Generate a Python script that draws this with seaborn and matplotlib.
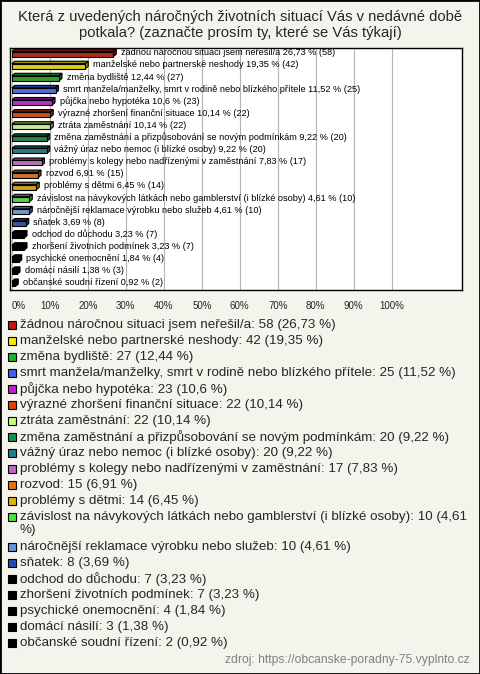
import textwrap

import matplotlib.pyplot as plt
import numpy as np
import pandas as pd
import seaborn as sns
from matplotlib.colors import to_rgb
from matplotlib.patches import Polygon, Rectangle

title = ("Která z uvedených náročných životních situací Vás v nedávné době\n"
         "potkala? (zaznačte prosím ty, které se Vás týkají)")

categories = [
    "žádnou náročnou situaci jsem neřešil/a",
    "manželské nebo partnerské neshody",
    "změna bydliště",
    "smrt manžela/manželky, smrt v rodině nebo blízkého přítele",
    "půjčka nebo hypotéka",
    "výrazné zhoršení finanční situace",
    "ztráta zaměstnání",
    "změna zaměstnání a přizpůsobování se novým podmínkám",
    "vážný úraz nebo nemoc (i blízké osoby)",
    "problémy s kolegy nebo nadřízenými v zaměstnání",
    "rozvod",
    "problémy s dětmi",
    "závislost na návykových látkách nebo gamblerství (i blízké osoby)",
    "náročnější reklamace výrobku nebo služeb",
    "sňatek",
    "odchod do důchodu",
    "zhoršení životních podmínek",
    "psychické onemocnění",
    "domácí násilí",
    "občanské soudní řízení",
]
counts = [58, 42, 27, 25, 23, 22, 22, 20, 20, 17, 15, 14, 10, 10, 8, 7, 7, 4, 3, 2]
percents = [26.73, 19.35, 12.44, 11.52, 10.6, 10.14, 10.14, 9.22, 9.22, 7.83,
            6.91, 6.45, 4.61, 4.61, 3.69, 3.23, 3.23, 1.84, 1.38, 0.92]
colors = ["#c0180c", "#f8e800", "#20b020", "#3c64e8", "#c020d0", "#e04010",
          "#c8f880", "#189050", "#208090", "#c860c8", "#e87010", "#e8b000",
          "#50e040", "#6890e0", "#2848b8", "#000000", "#000000", "#000000",
          "#000000", "#000000"]
source = "zdroj: https://obcanske-poradny-75.vyplnto.cz"


def fmt(v):
    return f"{v:g}".replace(".", ",")


df = pd.DataFrame({"cat": categories, "pct": percents, "n": counts})

sns.set_style("white")
plt.rcParams["font.family"] = ["Liberation Sans", "DejaVu Sans"]

W, H = 480, 674
bg = "#f4f4ec"
fig = plt.figure(figsize=(W / 100, H / 100), dpi=100)
fig.patch.set_facecolor(bg)

ax = fig.add_axes([10 / W, 1 - 290 / H, 452 / W, 242 / H])
ax.set_facecolor("white")
sns.barplot(data=df, y="cat", x="pct", hue="cat", palette=colors, legend=False,
            orient="h", width=0.42, edgecolor="black", linewidth=0.8, ax=ax, zorder=3)

# fake 3D depth on each bar
dx, dy = 0.75, -0.2
for i, p in enumerate(ax.patches):
    x0, y0 = p.get_x(), p.get_y()
    w, h = p.get_width(), p.get_height()
    x1 = x0 + w
    dark = tuple(0.6 * np.array(to_rgb(colors[i])))
    top = Polygon([(x0, y0), (x0 + dx, y0 + dy), (x1 + dx, y0 + dy), (x1, y0)],
                  closed=True, fc=dark, ec="black", lw=0.8, zorder=2.9)
    side = Polygon([(x1, y0), (x1 + dx, y0 + dy), (x1 + dx, y0 + h + dy), (x1, y0 + h)],
                   closed=True, fc=dark, ec="black", lw=0.8, zorder=2.9)
    ax.add_patch(top)
    ax.add_patch(side)
    ax.text(x1 + dx + 1.2, y0 + h / 2 + dy / 2,
            f"{categories[i]} {fmt(percents[i])} % ({counts[i]})",
            va="center", ha="left", fontsize=6.6, color="black", zorder=4)

ax.set_xlim(-0.5, 118.5)
ax.set_xticks(np.arange(0, 101, 10))
ax.set_xticklabels([f"{t}%" for t in range(0, 101, 10)], fontsize=7)
ax.get_xticklabels()[0].set_ha("left")
ax.tick_params(axis="x", length=0, pad=8)
ax.set_yticks([])
ax.set_xlabel("")
ax.set_ylabel("")
ax.grid(axis="x", color="#b4b4b4", lw=0.8)
ax.set_axisbelow(True)
for s in ax.spines.values():
    s.set_color("black")
    s.set_linewidth(1.0)

fig.text(0.5, 1 - 25 / H, title, ha="center", va="center", fontsize=10.6,
         linespacing=1.2)

# legend list below the chart
y = 325
for cat, n, pct, c in zip(categories, counts, percents, colors):
    label = f"{cat}: {n} ({fmt(pct)} %)"
    lines = textwrap.wrap(label, 76)
    fig.add_artist(Rectangle((8 / W, 1 - (y + 4) / H), 8 / W, 8 / H,
                             transform=fig.transFigure, fc=c, ec="black", lw=0.8))
    for k, line in enumerate(lines):
        fig.text(20 / W, 1 - (y + 13 * k) / H, line, ha="left", va="center",
                 fontsize=9.6)
    y += 16 + 14 * (len(lines) - 1)

fig.text(470 / W, 1 - 660 / H, source, ha="right", va="center", fontsize=8.7, color="#808080")

fig.add_artist(Rectangle((0, 0), 1, 1, transform=fig.transFigure, fill=False,
                         ec="black", lw=2))

fig.savefig("out.png", dpi=100, facecolor=bg)
